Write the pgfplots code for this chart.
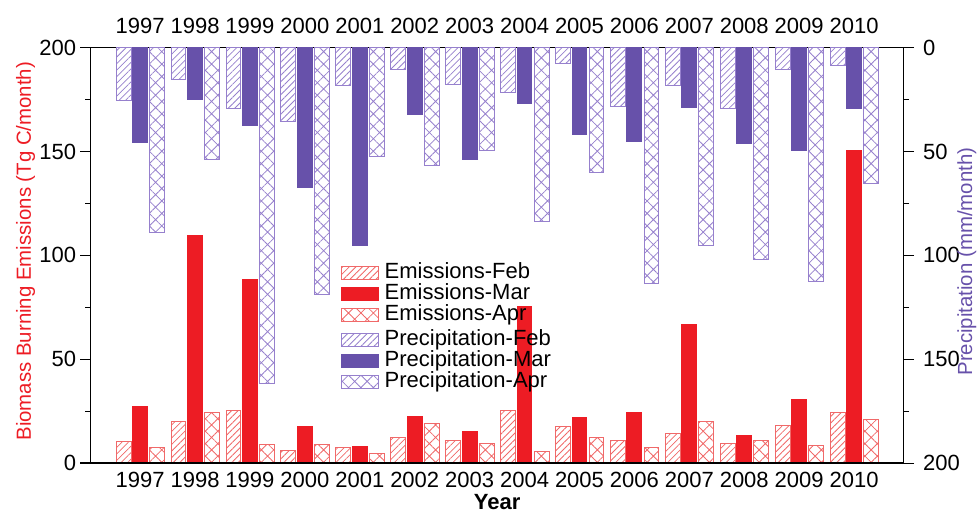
\documentclass[border=0pt]{standalone}
\usepackage{fontspec}
\setmainfont{Liberation Sans}
\usepackage{pgfplots}
\usepackage{pgfplotstable}
\pgfplotsset{compat=1.18}
\usetikzlibrary{patterns.meta}
\definecolor{emred}{RGB}{237,28,36}
\definecolor{emredl}{RGB}{240,105,105}
\definecolor{prpur}{RGB}{103,81,170}
\definecolor{prpurl}{RGB}{150,128,205}

\pgfplotstableread{
year feb mar apr
1997 10.6 27.1 7.4
1998 20.2 109.6 24.4
1999 25.5 88.6 9.0
2000 6.3 17.5 9.0
2001 7.4 7.9 4.7
2002 12.2 22.3 19.1
2003 11.1 15.1 9.2
2004 25.5 75.2 5.5
2005 17.5 21.8 12.2
2006 10.8 24.2 7.4
2007 14.3 66.7 19.9
2008 9.5 13.2 10.8
2009 18.3 30.6 8.7
2010 24.2 150.3 21.0
}\emis

\pgfplotstableread{
year feb mar apr
1997 25.2 45.7 88.9
1998 15.2 24.8 53.7
1999 29.5 37.7 161.6
2000 35.3 67.2 118.6
2001 18.0 95.4 52.2
2002 10.4 32.4 56.5
2003 17.6 53.7 49.3
2004 21.7 27.1 83.8
2005 7.5 41.7 60.0
2006 28.4 45.3 113.5
2007 18.4 28.9 95.0
2008 29.2 46.0 102.2
2009 10.7 49.3 112.7
2010 8.7 29.2 65.6
}\prec

\pgfplotsset{
  lg/.style={legend image code/.code={\draw[##1] (0pt,-3.2pt) rectangle (18.5pt,3.2pt);}},
  common/.style={
    width=406.4pt, height=207.7pt, scale only axis,
    xmin=1996.1, xmax=2010.9, ymin=0, ymax=200,
    xtick={1997,1998,1999,2000,2001,2002,2003,2004,2005,2006,2007,2008,2009,2010},
    xticklabels={1997,1998,1999,2000,2001,2002,2003,2004,2005,2006,2007,2008,2009,2010},
    ytick={0,50,100,150,200},
    minor ytick={25,75,125,175},
    xtick style={draw=none},
    tick align=outside,
    major tick length=5.3pt, minor tick length=2.8pt,
    every tick/.style={black, line width=0.6pt},
    axis line style={line width=0.7pt},
    /pgf/number format/assume math mode=true,
    tick label style={font=\fontsize{11}{12}\selectfont},
    label style={font=\fontsize{10.2}{12}\selectfont},
    legend style={draw=none, fill=none, inner sep=0pt, font=\fontsize{11}{12}\selectfont,
      nodes={inner sep=0pt, text height=7.5pt, text depth=2pt}, row sep=1pt, column sep=3pt},
    legend cell align=left,
  },
}

\begin{document}
\begin{tikzpicture}
\begin{axis}[common,
  ytick pos=left,
  xticklabel pos=lower,
  xticklabel style={yshift=4.5pt},
  yticklabel style={xshift=1.5pt},
  xlabel={\textbf{Year}},
  xlabel style={at={(axis description cs:0.5,0)}, anchor=center, yshift=-19.5pt, font=\fontsize{11}{12}\selectfont},
  ylabel={Biomass Burning Emissions (Tg C/month)},
  ylabel style={color=emred, at={(axis description cs:0,0.51)}, anchor=center, yshift=32.6pt},
  legend style={at={(axis description cs:0.307,0.4816)}, anchor=north west},
]
\addplot[ybar, bar width=0.27, bar shift=-0.3, draw=emredl, line width=0.5pt,
  pattern={Lines[angle=45,distance=2.3pt,line width=0.4pt]}, pattern color=emredl, lg]
  table[x=year,y=feb]{\emis};
\addlegendentry{Emissions-Feb}
\addplot[ybar, bar width=0.27, bar shift=0, draw=emred, fill=emred, line width=0.5pt, lg]
  table[x=year,y=mar]{\emis};
\addlegendentry{Emissions-Mar}
\addplot[ybar, bar width=0.27, bar shift=0.31, draw=emredl, line width=0.5pt,
  pattern={Hatch[angle=45,distance=4.4pt,line width=0.4pt]}, pattern color=emredl, lg]
  table[x=year,y=apr]{\emis};
\addlegendentry{Emissions-Apr}
\end{axis}
\begin{axis}[common,
  y dir=reverse,
  ytick pos=right,
  yticklabel pos=right,
  xticklabel pos=upper,
  xticklabel style={yshift=-2pt},
  yticklabel style={xshift=1pt},
  ylabel={Precipitation (mm/month)},
  ylabel style={color=prpur, at={(axis description cs:1,0.485)}, anchor=center, yshift=-31.7pt},
  legend style={at={(axis description cs:0.307,0.321)}, anchor=north west},
]
\addplot[ybar, bar width=0.27, bar shift=-0.3, draw=prpurl, line width=0.5pt,
  pattern={Lines[angle=45,distance=2.3pt,line width=0.4pt]}, pattern color=prpurl, lg]
  table[x=year,y=feb]{\prec};
\addlegendentry{Precipitation-Feb}
\addplot[ybar, bar width=0.27, bar shift=0, draw=prpur, fill=prpur, line width=0.5pt, lg]
  table[x=year,y=mar]{\prec};
\addlegendentry{Precipitation-Mar}
\addplot[ybar, bar width=0.27, bar shift=0.31, draw=prpurl, line width=0.5pt,
  pattern={Hatch[angle=45,distance=4.4pt,line width=0.4pt]}, pattern color=prpurl, lg]
  table[x=year,y=apr]{\prec};
\addlegendentry{Precipitation-Apr}
\end{axis}
\pgfresetboundingbox
\path (-45.35pt,-24.5pt) rectangle (443.65pt,231.55pt);
\end{tikzpicture}
\end{document}
